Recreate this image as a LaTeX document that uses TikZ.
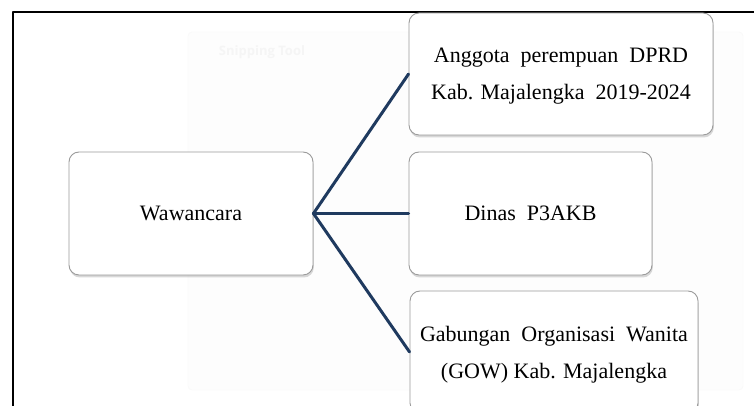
\documentclass[tikz,border=0pt]{standalone}
\usepackage{fontspec}
\setmainfont{Liberation Serif}
\newfontfamily\uifont{Open Sans}
\usetikzlibrary{shadows}
\definecolor{garisbiru}{HTML}{1F3A5F}
\definecolor{tepiabu}{HTML}{9A9A9A}
\tikzset{
  kotak/.style={draw=tepiabu, line width=0.9pt, rounded corners=10pt, fill=white,
    align=center, inner sep=0pt,
    drop shadow={shadow xshift=0.8pt, shadow yshift=-2.5pt, opacity=0.3}},
  cabang/.style={draw=garisbiru, line width=3pt, line cap=round}
}
\begin{document}
\begin{tikzpicture}[x=1pt, y=1pt, font=\fontsize{22}{37}\selectfont, line join=round]
  \useasboundingbox (0,0) rectangle (754,406);
  \clip (0,0) rectangle (754,406);
  \fill[white] (0,0) rectangle (754,406);
  % panel samar di belakang
  \draw[draw=black!3, fill=black!0.8, rounded corners=4pt] (188,16) rectangle (743,374);
  \node[text=black!4, font=\uifont\bfseries\fontsize{13}{13}\selectfont] (snip) at (262,354) {Snipping Tool};
  % bingkai luar
  \draw[line width=2.2pt] (13,-5)--(13,394)--(760,394);
  % kotak
  \node[kotak, minimum width=244pt, minimum height=123pt] (wawancara) at (191,192.5) {Wawancara};
  \node[kotak, minimum width=304pt, minimum height=122pt, text depth=0pt] (dprd) at (561,332)
    {Anggota\ \ perempuan\ \ DPRD\\Kab. Majalengka\ \ 2019-2024};
  \node[kotak, minimum width=243pt, minimum height=123pt] (dinas) at (530.5,192.5) {Dinas\ \ P3AKB};
  \node[kotak, minimum width=288pt, minimum height=122pt, text depth=0pt] (gow) at (554,54)
    {Gabungan\ \ Organisasi\ \ Wanita\\(GOW) Kab. Majalengka};
  % cabang
  \draw[cabang] (wawancara.east)--(dprd.west);
  \draw[cabang] (wawancara.east)--(dinas.west);
  \draw[cabang] (wawancara.east)--(gow.west);
\end{tikzpicture}
\end{document}
